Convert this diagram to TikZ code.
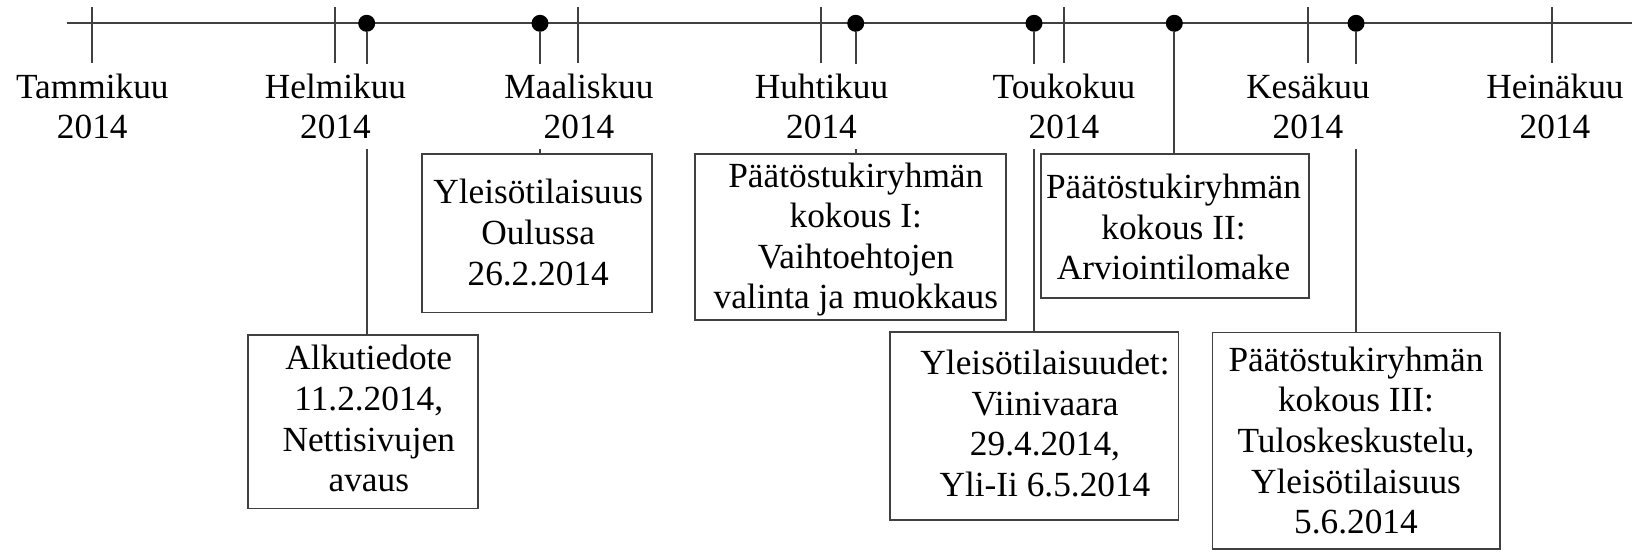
\documentclass[tikz,border=0pt]{standalone}
\usepackage{fontspec}
\setmainfont{Liberation Serif}
\definecolor{linegray}{RGB}{64,64,64}
\begin{document}
\begin{tikzpicture}[x=1pt,y=-1pt,
  font=\fontsize{35.3}{40.6}\selectfont,
  ln/.style={draw=linegray, line width=1.7pt},
  evbox/.style={draw=linegray, line width=1.7pt, inner sep=0pt},
  evtext/.style={align=center, inner sep=0pt},
  month/.style={fill=white, align=center, inner xsep=4pt, inner ysep=9.5pt},
  evdot/.style={circle, fill=black, inner sep=0pt, minimum size=17pt}]
\useasboundingbox (0,0) rectangle (1633,556);
\fill[white] (0,0) rectangle (1633,556);
% main time axis
\coordinate (ls) at (66.7,23.3);
\coordinate (le) at (1632,23.3);
\draw[ln] (ls) -- (le);
% month ticks
\foreach \x [count=\i] in {92.3,335,578.3,821,1064,1307.7,1552.3}{
  \coordinate (tk\i) at (\x,7.3);
  \draw[ln] (tk\i) -- ++(0,56);
}
% event boxes
\node[evbox, minimum width=230pt, minimum height=173.3pt] (bA) at (363.3,421.7) {};
\node[evbox, minimum width=230.6pt, minimum height=158.3pt] (bB) at (537,233.2) {};
\node[evbox, minimum width=311pt, minimum height=166pt] (bC) at (850.5,237) {};
\node[evbox, minimum width=288.3pt, minimum height=187.7pt] (bD) at (1034.2,426) {};
\node[evbox, minimum width=268.3pt, minimum height=143.7pt] (bE) at (1174.9,225.9) {};
\node[evbox, minimum width=287.7pt, minimum height=216.7pt] (bF) at (1356.2,440.7) {};
% event texts
\node[evtext] (tA) at (368.8,418.8) {Alkutiedote\\11.2.2014,\\Nettisivujen\\avaus};
\node[evtext] (tB) at (538.2,232.5) {Yleisötilaisuus\\Oulussa\\26.2.2014};
\node[evtext] (tC) at (855.8,239.6) {Päätöstukiryhmän\\kokous I:\\Vaihtoehtojen\\valinta ja muokkaus};
\node[evtext] (tD) at (1045,423.5) {Yleisötilaisuudet:\\Viinivaara\\29.4.2014,\\Yli-Ii 6.5.2014};
\node[evtext] (tE) at (1173.5,227.1) {Päätöstukiryhmän\\kokous II:\\Arviointilomake};
\node[evtext] (tF) at (1356,440.5) {Päätöstukiryhmän\\kokous III:\\Tuloskeskustelu,\\Yleisötilaisuus\\5.6.2014};
% event dots
\node[evdot] (dA) at (366.7,23.3) {};
\node[evdot] (dB) at (540,23.3) {};
\node[evdot] (dC) at (855.7,23.3) {};
\node[evdot] (dD) at (1034,23.3) {};
\node[evdot] (dE) at (1174.3,23.3) {};
\node[evdot] (dF) at (1356,23.3) {};
% stems
\foreach \e in {A,B,C,D,E,F}{
  \draw[ln] (d\e.south) -- (d\e |- b\e.north);
}
% month labels (white background hides the stems behind them)
\node[month] (m1) at (92.3,106.3) {Tammikuu\\2014};
\node[month] (m2) at (335.5,106.3) {Helmikuu\\2014};
\node[month] (m3) at (579,106.3) {Maaliskuu\\2014};
\node[month] (m4) at (821.5,106.3) {Huhtikuu\\2014};
\node[month] (m5) at (1064,106.3) {Toukokuu\\2014};
\node[month] (m6) at (1308,106.3) {Kesäkuu\\2014};
\node[month] (m7) at (1555,106.3) {Heinäkuu\\2014};
\end{tikzpicture}
\end{document}
